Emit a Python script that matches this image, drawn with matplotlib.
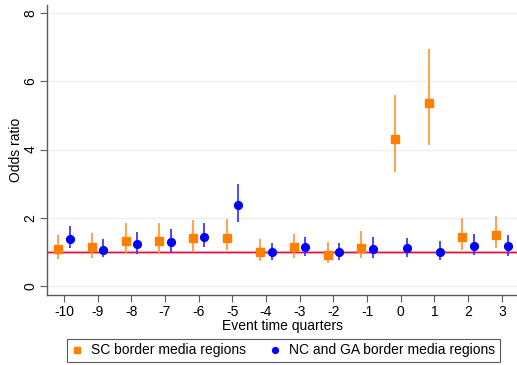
import matplotlib

matplotlib.use("Agg")
import matplotlib.pyplot as plt
import numpy as np

quarters = [-10, -9, -8, -7, -6, -5, -4, -3, -2, -1, 0, 1, 2, 3]

# SC border media regions (orange squares)
sc_or = [1.09, 1.14, 1.33, 1.33, 1.42, 1.42, 0.99, 1.13, 0.91, 1.12, 4.31, 5.35, 1.44, 1.49]
sc_hi = [1.50, 1.56, 1.85, 1.85, 1.94, 1.97, 1.37, 1.53, 1.28, 1.60, 5.59, 6.94, 1.98, 2.06]
sc_lo = [0.79, 0.82, 0.96, 0.97, 1.03, 1.06, 0.72, 0.83, 0.67, 0.82, 3.34, 4.13, 1.06, 1.11]

# NC and GA border media regions (blue circles)
nc_or = [1.39, 1.06, 1.23, 1.29, 1.44, 2.38, 0.99, 1.14, 0.99, 1.09, 1.10, 1.01, 1.18, 1.16]
nc_hi = [1.75, 1.37, 1.58, 1.67, 1.84, 3.00, 1.27, 1.45, 1.25, 1.43, 1.41, 1.31, 1.52, 1.49]
nc_lo = [1.11, 0.84, 0.94, 0.99, 1.13, 1.89, 0.76, 0.88, 0.76, 0.82, 0.86, 0.76, 0.91, 0.88]

plt.rcParams["font.family"] = ["Liberation Sans", "DejaVu Sans"]

ORANGE = "#ff8000"
ORANGE_BAR = "#ff9a3c"
BLUE = "#0000ff"
BLUE_BAR = "#3a3aff"
AXIS = "#5a5a5a"

fig = plt.figure(figsize=(5.17, 3.65), dpi=100)
ax = fig.add_axes([0.091, 0.192, 0.909, 0.794])

x = np.array(quarters, dtype=float)
off = 0.17

for y in (0, 2, 4, 6, 8):
    ax.axhline(y, color="#eaf2f3", linewidth=1.0, zorder=0)

# reference line at odds ratio 1
ax.axhline(1, color="#f6c6cf", linewidth=2.4, zorder=1)
ax.axhline(1, color="#d6123f", linewidth=1.0, zorder=2)

ax.vlines(x - off, sc_lo, sc_hi, color=ORANGE_BAR, linewidth=1.3, zorder=3)
ax.plot(x - off, sc_or, "s", color=ORANGE, markersize=6, linestyle="none",
        zorder=4, label="SC border media regions")
ax.vlines(x + off, nc_lo, nc_hi, color=BLUE_BAR, linewidth=1.3, zorder=3)
ax.plot(x + off, nc_or, "o", color=BLUE, markersize=5.6, linestyle="none",
        zorder=4, label="NC and GA border media regions")

ax.set_xlim(-10.5, 3.45)
ax.set_ylim(-0.26, 8.23)
ax.set_xticks(quarters)
ax.set_xticklabels([str(q) for q in quarters])
ax.set_yticks([0, 2, 4, 6, 8])
ax.set_yticklabels(["0", "2", "4", "6", "8"], rotation=90, va="center")

for side in ("top", "right"):
    ax.spines[side].set_visible(False)
for side in ("left", "bottom"):
    ax.spines[side].set_color(AXIS)
    ax.spines[side].set_linewidth(1.0)
ax.tick_params(axis="both", direction="out", length=5, width=0.8, color=AXIS,
               labelsize=10, labelcolor="black", pad=2)

ax.set_xlabel("Event time quarters", fontsize=10, labelpad=0)
ax.set_ylabel("Odds ratio", fontsize=10, labelpad=0)

handles, labels = ax.get_legend_handles_labels()
leg = fig.legend(handles, labels, loc="center", bbox_to_anchor=(0.548, 0.04),
                 ncol=2, fontsize=10, frameon=True, fancybox=False,
                 handlelength=0.8, handletextpad=0.6, columnspacing=1.7,
                 markerscale=0.75, borderpad=0.35)
leg.get_frame().set_edgecolor("#333333")
leg.get_frame().set_linewidth(0.8)

fig.savefig("out.png", dpi=100)
